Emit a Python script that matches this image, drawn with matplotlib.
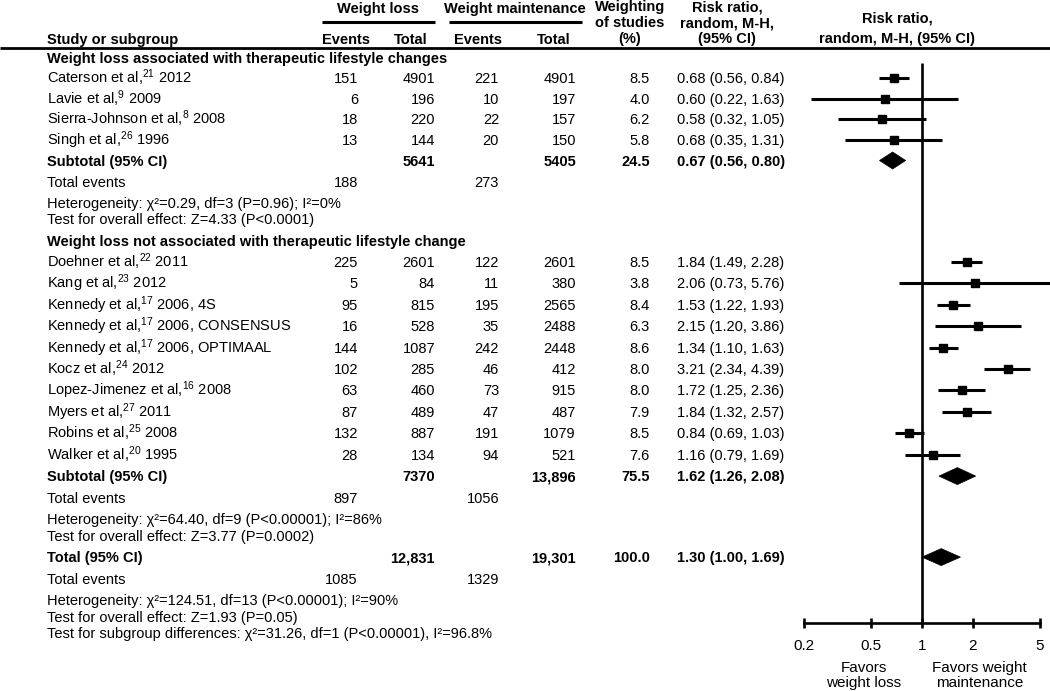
import matplotlib
matplotlib.use("Agg")
import matplotlib.pyplot as plt
from matplotlib.patches import Polygon
from matplotlib.ticker import NullLocator

plt.rcParams['font.family'] = ['Liberation Sans', 'DejaVu Sans']
plt.rcParams['mathtext.fontset'] = 'custom'
plt.rcParams['mathtext.rm'] = 'Liberation Sans'
plt.rcParams['mathtext.it'] = 'Liberation Sans:italic'
plt.rcParams['mathtext.bf'] = 'Liberation Sans:bold'

# ---------------- data ----------------
g1_title = "Weight loss associated with therapeutic lifestyle changes"
g1_names = ["Caterson et al,$^{21}$ 2012", "Lavie et al,$^{9}$ 2009",
            "Sierra-Johnson et al,$^{8}$ 2008", "Singh et al,$^{26}$ 1996"]
g1_wl_events = [151, 6, 18, 13]
g1_wl_total = [4901, 196, 220, 144]
g1_wm_events = [221, 10, 22, 20]
g1_wm_total = [4901, 197, 157, 150]
g1_weight = [8.5, 4.0, 6.2, 5.8]
g1_rr = [0.68, 0.60, 0.58, 0.68]
g1_lo = [0.56, 0.22, 0.32, 0.35]
g1_hi = [0.84, 1.63, 1.05, 1.31]
g1_sub = dict(wl_total=5641, wm_total=5405, weight=24.5, rr=0.67, lo=0.56, hi=0.80,
              wl_events=188, wm_events=273,
              het="Heterogeneity: χ²=0.29, df=3 (P=0.96); I²=0%",
              test="Test for overall effect: Z=4.33 (P<0.0001)")

g2_title = "Weight loss not associated with therapeutic lifestyle change"
g2_names = ["Doehner et al,$^{22}$ 2011", "Kang et al,$^{23}$ 2012",
            "Kennedy et al,$^{17}$ 2006, 4S", "Kennedy et al,$^{17}$ 2006, CONSENSUS",
            "Kennedy et al,$^{17}$ 2006, OPTIMAAL", "Kocz et al,$^{24}$ 2012",
            "Lopez-Jimenez et al,$^{16}$ 2008", "Myers et al,$^{27}$ 2011",
            "Robins et al,$^{25}$ 2008", "Walker et al,$^{20}$ 1995"]
g2_wl_events = [225, 5, 95, 16, 144, 102, 63, 87, 132, 28]
g2_wl_total = [2601, 84, 815, 528, 1087, 285, 460, 489, 887, 134]
g2_wm_events = [122, 11, 195, 35, 242, 46, 73, 47, 191, 94]
g2_wm_total = [2601, 380, 2565, 2488, 2448, 412, 915, 487, 1079, 521]
g2_weight = [8.5, 3.8, 8.4, 6.3, 8.6, 8.0, 8.0, 7.9, 8.5, 7.6]
g2_rr = [1.84, 2.06, 1.53, 2.15, 1.34, 3.21, 1.72, 1.84, 0.84, 1.16]
g2_lo = [1.49, 0.73, 1.22, 1.20, 1.10, 2.34, 1.25, 1.32, 0.69, 0.79]
g2_hi = [2.28, 5.76, 1.93, 3.86, 1.63, 4.39, 2.36, 2.57, 1.03, 1.69]
g2_sub = dict(wl_total=7370, wm_total=13896, weight=75.5, rr=1.62, lo=1.26, hi=2.08,
              wl_events=897, wm_events=1056,
              het="Heterogeneity: χ²=64.40, df=9 (P<0.00001); I²=86%",
              test="Test for overall effect: Z=3.77 (P=0.0002)")

overall = dict(wl_total=12831, wm_total=19301, weight=100.0, rr=1.30, lo=1.00, hi=1.69,
               wl_events=1085, wm_events=1329,
               het="Heterogeneity: χ²=124.51, df=13 (P<0.00001); I²=90%",
               test="Test for overall effect: Z=1.93 (P=0.05)",
               sub="Test for subgroup differences: χ²=31.26, df=1 (P<0.00001), I²=96.8%")

axis_ticks = [0.2, 0.5, 1, 2, 5]
axis_labels = ["0.2", "0.5", "1", "2", "5"]
favors_left = ["Favors", "weight loss"]
favors_right = ["Favors weight", "maintenance"]

# ---------------- layout ----------------
W, H = 1050, 691
FS = 10.5
fig = plt.figure(figsize=(W / 100, H / 100), dpi=100)
bg = fig.add_axes([0, 0, 1, 1])
bg.set_xlim(0, W)
bg.set_ylim(H, 0)
bg.axis('off')

FX0, FX1 = 804, 1040
fa = fig.add_axes([FX0 / W, 0, (FX1 - FX0) / W, 1])
fa.set_xscale('log')
fa.set_xlim(0.2, 5)
fa.set_ylim(H, 0)
fa.patch.set_visible(False)

X_NAME = 47
X_WLE, X_WLT, X_WME, X_WMT, X_WT, X_RR = 358, 435, 499, 576, 650, 677
BASE = 5  # baseline offset from row centre


def txt(x, y, s, ha='left', bold=False, size=FS):
    bg.text(x, y + BASE, s, ha=ha, va='baseline', fontsize=size,
            fontweight='bold' if bold else 'normal')


def fmt(v):
    return f"{v:,}" if v >= 10000 else str(v)


def rrtxt(r, l, h):
    return f"{r:.2f} ({l:.2f}, {h:.2f})"


# header
txt(378, 8, "Weight loss", ha='center', bold=True)
txt(515, 8, "Weight maintenance", ha='center', bold=True)
bg.plot([322, 435], [22, 22], color='black', lw=2.2, solid_capstyle='butt')
bg.plot([449, 582], [22, 22], color='black', lw=2.2, solid_capstyle='butt')
for yy, s in zip([6, 22, 38], ["Weighting", "of studies", "(%)"]):
    txt(630, yy, s, ha='center', bold=True)
for yy, s in zip([6, 22, 38], ["Risk ratio,", "random, M-H,", "(95% CI)"]):
    txt(727, yy, s, ha='center', bold=True)
txt(897, 17, "Risk ratio,", ha='center', bold=True)
txt(897, 38, "random, M-H, (95% CI)", ha='center', bold=True)
txt(X_NAME, 39, "Study or subgroup", bold=True)
txt(346, 39, "Events", ha='center', bold=True)
txt(411, 39, "Total", ha='center', bold=True)
txt(478, 39, "Events", ha='center', bold=True)
txt(554, 39, "Total", ha='center', bold=True)
bg.plot([0, W], [48, 48], color='black', lw=2.0, solid_capstyle='butt')


def study_rows(y0, step, names, wle, wlt, wme, wmt, wt, rr, lo, hi):
    for i in range(len(names)):
        y = y0 + i * step
        txt(X_NAME, y, names[i])
        txt(X_WLE, y, str(wle[i]), ha='right')
        txt(X_WLT, y, fmt(wlt[i]), ha='right')
        txt(X_WME, y, str(wme[i]), ha='right')
        txt(X_WMT, y, fmt(wmt[i]), ha='right')
        txt(X_WT, y, f"{wt[i]:.1f}", ha='right')
        txt(X_RR, y, rrtxt(rr[i], lo[i], hi[i]))
        fa.plot([lo[i], hi[i]], [y, y], color='black', lw=2.2,
                solid_capstyle='butt', clip_on=False)
        fa.plot([rr[i]], [y], marker='s', color='black',
                ms=4.6 + 0.12 * wt[i], clip_on=False)
    return y0 + (len(names) - 1) * step


def summary_row(y, label, d):
    txt(X_NAME, y, label, bold=True)
    txt(X_WLT, y, fmt(d['wl_total']), ha='right', bold=True)
    txt(X_WMT, y, fmt(d['wm_total']), ha='right', bold=True)
    txt(X_WT, y, f"{d['weight']:.1f}", ha='right', bold=True)
    txt(X_RR, y, rrtxt(d['rr'], d['lo'], d['hi']), bold=True)
    poly = Polygon([[d['lo'], y], [d['rr'], y - 8.5], [d['hi'], y], [d['rr'], y + 8.5]],
                   closed=True, facecolor='black', edgecolor='black', lw=0.5)
    fa.add_patch(poly)


def events_row(y, d):
    txt(X_NAME, y, "Total events")
    txt(X_WLE, y, str(d['wl_events']), ha='right')
    txt(X_WME, y, str(d['wm_events']), ha='right')


# group 1
txt(X_NAME, 58, g1_title, bold=True)
y = study_rows(78, 20.5, g1_names, g1_wl_events, g1_wl_total, g1_wm_events,
               g1_wm_total, g1_weight, g1_rr, g1_lo, g1_hi)
summary_row(y + 21, "Subtotal (95% CI)", g1_sub)
events_row(y + 42, g1_sub)
txt(X_NAME, y + 63, g1_sub['het'])
txt(X_NAME, y + 79.5, g1_sub['test'])

# group 2
txt(X_NAME, 241, g2_title, bold=True)
y = study_rows(262, 21.4, g2_names, g2_wl_events, g2_wl_total, g2_wm_events,
               g2_wm_total, g2_weight, g2_rr, g2_lo, g2_hi)
summary_row(y + 21.5, "Subtotal (95% CI)", g2_sub)
events_row(y + 43, g2_sub)
txt(X_NAME, y + 64.5, g2_sub['het'])
txt(X_NAME, y + 81, g2_sub['test'])

# overall
y = y + 102.5
summary_row(y, "Total (95% CI)", overall)
events_row(y + 21.5, overall)
txt(X_NAME, y + 43, overall['het'])
txt(X_NAME, y + 59.5, overall['test'])
txt(X_NAME, y + 76, overall['sub'])

# forest axis
AXY = 623
fa.plot([1, 1], [63, AXY], color='black', lw=1.9, solid_capstyle='butt')
for sp in ['left', 'top', 'right']:
    fa.spines[sp].set_visible(False)
fa.spines['bottom'].set_position(('data', AXY))
fa.spines['bottom'].set_linewidth(1.9)
fa.yaxis.set_visible(False)
fa.set_xticks(axis_ticks)
fa.set_xticklabels(axis_labels)
fa.xaxis.set_minor_locator(NullLocator())
fa.tick_params(axis='x', direction='inout', length=7, width=1.9, pad=8, labelsize=11)
for i, s in enumerate(favors_left):
    fa.text(0.45, 667 + 15 * i + 5, s, ha='center', va='baseline', fontsize=11)
for i, s in enumerate(favors_right):
    fa.text(2.2, 667 + 15 * i + 5, s, ha='center', va='baseline', fontsize=11)

fig.savefig("out.png", dpi=100)
